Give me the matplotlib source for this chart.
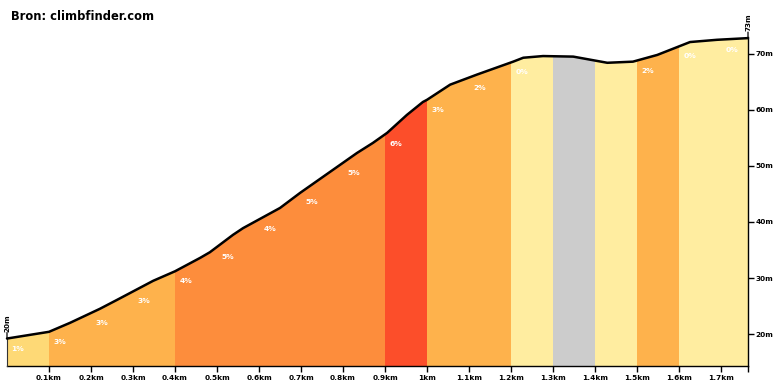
import matplotlib
matplotlib.use("Agg")
import matplotlib.pyplot as plt
from matplotlib.patches import Polygon
import numpy as np

# ---- data ----
dist_km = [0, 0.1, 0.15, 0.221, 0.262, 0.348, 0.4, 0.46, 0.483, 0.538, 0.562,
           0.65, 0.698, 0.776, 0.833, 0.871, 0.905, 0.952, 0.99, 1.0, 1.055,
           1.119, 1.205, 1.229, 1.276, 1.348, 1.429, 1.49, 1.548, 1.626, 1.69, 1.764]
elev_m = [19.2, 20.4, 22.0, 24.5, 26.1, 29.5, 31.2, 33.6, 34.6, 37.7, 38.9,
          42.5, 45.2, 49.3, 52.3, 54.1, 55.9, 59.1, 61.4, 61.8, 64.5,
          66.3, 68.6, 69.3, 69.6, 69.5, 68.4, 68.6, 69.8, 72.1, 72.5, 72.8]

seg_start_km = [0, 0.1, 0.2, 0.3, 0.4, 0.5, 0.6, 0.7, 0.8, 0.9, 1.0, 1.1, 1.2,
                1.3, 1.4, 1.5, 1.6, 1.7]
seg_grade = [1, 3, 3, 3, 4, 5, 4, 5, 5, 6, 3, 2, 0, -1, 0, 2, 0, 0]
seg_label = ['1%', '3%', '3%', '3%', '4%', '5%', '4%', '5%', '5%', '6%', '3%',
             '2%', '0%', '', '', '2%', '0%', '0%']

x_ticks = [0.1, 0.2, 0.3, 0.4, 0.5, 0.6, 0.7, 0.8, 0.9, 1.0, 1.1, 1.2, 1.3,
           1.4, 1.5, 1.6, 1.7]
x_tick_labels = ['0.1km', '0.2km', '0.3km', '0.4km', '0.5km', '0.6km', '0.7km',
                 '0.8km', '0.9km', '1km', '1.1km', '1.2km', '1.3km', '1.4km',
                 '1.5km', '1.6km', '1.7km']
y_ticks = [20, 30, 40, 50, 60, 70]
y_tick_labels = ['20m', '30m', '40m', '50m', '60m', '70m']
start_label = '20m'
end_label = '73m'
title = 'Bron: climbfinder.com'


def grade_color(g):
    if g < 0:
        return '#CCCCCC'
    if g == 0:
        return '#FFEDA0'
    if g == 1:
        return '#FED976'
    if g <= 3:
        return '#FEB24C'
    if g <= 5:
        return '#FD8D3C'
    return '#FC4E2A'


plt.rcParams['font.family'] = ['DejaVu Sans']
W, H = 780, 390
fig = plt.figure(figsize=(W / 100, H / 100), dpi=100)
ax = fig.add_axes([7 / W, 24 / H, (748 - 7) / W, (366 - 37) / H])

x_end = dist_km[-1]
y_lo, y_hi = 14.3, 73.0
ax.set_xlim(0, x_end)
ax.set_ylim(y_lo, y_hi)

# clip polygon under profile
verts = list(zip(dist_km, elev_m)) + [(x_end, y_lo), (0, y_lo)]
poly = Polygon(verts, closed=True, transform=ax.transData)

seg_end = seg_start_km[1:] + [x_end]
widths = [e - s for s, e in zip(seg_start_km, seg_end)]
bars = ax.bar(seg_start_km, [y_hi - y_lo] * len(seg_start_km), bottom=y_lo,
              width=widths, align='edge',
              color=[grade_color(g) for g in seg_grade], linewidth=0)
for b in bars:
    b.set_clip_path(poly)

ax.plot(dist_km, elev_m, color='black', lw=1.8, solid_capstyle='round',
        solid_joinstyle='round', clip_on=False, zorder=5)

# grade labels
for s, lab in zip(seg_start_km, seg_label):
    if not lab:
        continue
    e = np.interp(s, dist_km, elev_m)
    ax.annotate(lab, (s, e), xytext=(11, -10), textcoords='offset pixels',
                ha='center', va='center', color='white', fontsize=5.4,
                fontweight='bold', zorder=6)

# start / end markers
for xv, ev, lab in [(0, elev_m[0], start_label), (x_end, elev_m[-1], end_label)]:
    ax.annotate('', (xv, ev), xytext=(0, 6), textcoords='offset pixels',
                arrowprops=dict(arrowstyle='-', color='black', lw=0.9,
                                shrinkA=0, shrinkB=0), annotation_clip=False)
    ax.annotate(lab, (xv, ev), xytext=(0.5, 7), textcoords='offset pixels',
                ha='center', va='bottom', rotation=90, fontsize=5.2,
                fontweight='bold', color='black', annotation_clip=False)
ax.plot([0, 0], [y_lo, elev_m[0]], color='#333333', lw=0.8, clip_on=False,
        zorder=4)

# axes styling
for side in ['top', 'left']:
    ax.spines[side].set_visible(False)
ax.spines['bottom'].set_linewidth(1.0)
ax.spines['right'].set_linewidth(1.0)
ax.yaxis.tick_right()
ax.set_xticks(x_ticks + [x_end])
ax.set_xticklabels(x_tick_labels + [''])
ax.set_yticks(y_ticks)
ax.set_yticklabels(y_tick_labels)
ax.tick_params(axis='both', direction='out', length=4, width=1.0,
               colors='black', labelsize=5.3)
ax.tick_params(axis='x', pad=2.5)
ax.tick_params(axis='y', pad=1.5)
for lbl in ax.get_xticklabels() + ax.get_yticklabels():
    lbl.set_fontweight('bold')

fig.text(11 / W, 1 - 16 / H, title, ha='left', va='center', fontsize=8.3,
         fontweight='bold', color='black')

fig.savefig('out.png', dpi=100)
